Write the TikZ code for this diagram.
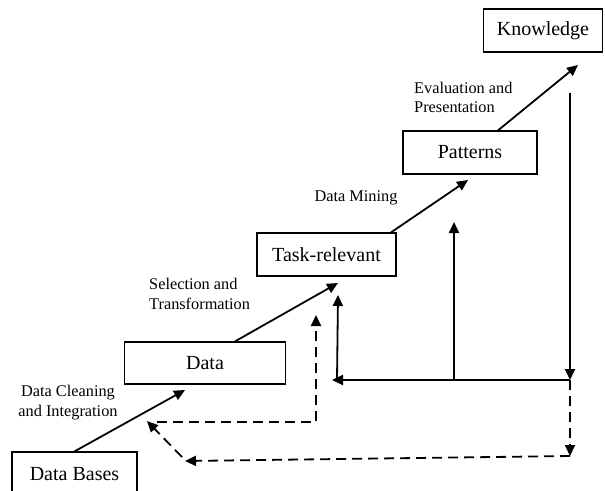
\documentclass[tikz,border=0pt]{standalone}
\usepackage{fontspec}
\setmainfont{Liberation Serif}
\usetikzlibrary{arrows.meta}
\tikzset{
  stage/.style={draw, line width=1.2pt, inner sep=0pt, font=\fontsize{20}{20}\selectfont},
  lbl/.style={font=\fontsize{16.3}{19.5}\selectfont, inner sep=0pt},
  flow/.style={line width=1.8pt, -{Triangle[length=11pt,width=10pt]}},
  back/.style={flow, dash pattern=on 10pt off 6pt}
}

\begin{document}
\begin{tikzpicture}[x=1pt,y=-1pt]
  \useasboundingbox (0,0) rectangle (605,490);
  % the stages
  \node[stage, minimum width=125pt, minimum height=44pt] (bases) at (74.5,474) {Data Bases};
  \node[stage, minimum width=161pt, minimum height=42pt] (data) at (205,363) {Data};
  \node[stage, minimum width=139pt, minimum height=43pt] (task) at (326.5,254.5) {Task-relevant};
  \node[stage, minimum width=134pt, minimum height=43pt] (pat) at (470,152.5) {Patterns};
  \node[stage, minimum width=119pt, minimum height=43pt] (know) at (543,30.5) {Knowledge};
  % step labels
  \node[lbl, align=center] (clean) at (68,402.5) {Data Cleaning\\and Integration};
  \node[lbl, align=left, anchor=west] (sel) at (149,294) {Selection and\\Transformation};
  \node[lbl] (mine) at (356,198) {Data Mining};
  \node[lbl, align=left, anchor=west] (eval) at (414,97.5) {Evaluation and\\Presentation};
  % arrow ends
  \coordinate (t1) at (185,390);
  \coordinate (t2) at (338,283);
  \coordinate (t3) at (468,180);
  \coordinate (t4) at (578,65);
  \coordinate (k1) at (570,93);
  \coordinate (k2) at (570,380);
  \coordinate (h1) at (332,380);
  \coordinate (v1) at (454,380);
  \coordinate (v1t) at (454,222);
  \coordinate (v2) at (337,380);
  \coordinate (v2t) at (338,295);
  \coordinate (d1) at (570,456);
  \coordinate (d2) at (185,461);
  \coordinate (d3) at (182,457);
  \coordinate (d4) at (147,421);
  \coordinate (e1) at (157,422);
  \coordinate (e2) at (316,422);
  \coordinate (e3) at (316,315);
  % forward arrows
  \draw[flow] (bases.north) -- (t1);
  \draw[flow] ([xshift=30pt]data.north) -- (t2);
  \draw[flow] ([xshift=64.5pt]task.north) -- (t3);
  \draw[flow] ([xshift=28pt]pat.north) -- (t4);
  % feedback
  \draw[flow] (k1) -- (k2);
  \draw[flow] (k2) -- (h1);
  \draw[flow] (v1) -- (v1t);
  \draw[flow] (v2) -- (v2t);
  \draw[back] (k2) -- (d1);
  \draw[back] (d1) -- (d2);
  \draw[back] (d3) -- (d4);
  \draw[back] (e1) -- (e2) -- (e3);
\end{tikzpicture}
\end{document}
